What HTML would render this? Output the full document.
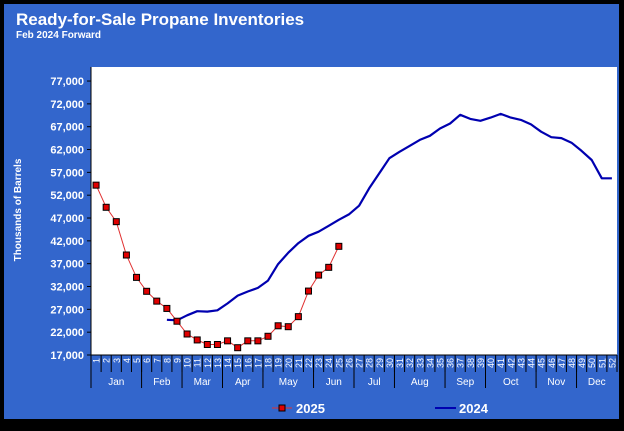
<!DOCTYPE html>
<html><head><meta charset="utf-8"><style>
html,body{margin:0;padding:0;background:#000;}
body{width:624px;height:426px;overflow:hidden;font-family:"Liberation Sans",sans-serif;}
</style></head><body>
<svg width="624" height="426" xmlns="http://www.w3.org/2000/svg" style="font-family:'Liberation Sans',sans-serif">
<rect x="0" y="0" width="624" height="426" fill="#000"/>
<rect x="4" y="4" width="615" height="415" fill="#3366CC"/>
<text x="16" y="25" fill="#fff" font-size="17" font-weight="bold">Ready-for-Sale Propane Inventories</text>
<text x="16" y="38" fill="#fff" font-size="10" font-weight="bold">Feb 2024 Forward</text>
<text transform="translate(21,210) rotate(-90)" fill="#fff" font-size="10" font-weight="bold" text-anchor="middle">Thousands of Barrels</text>
<rect x="91" y="67" width="526" height="288" fill="#fff"/>
<g id="axes"></g>
<g id="marks"></g>
<g>
<line x1="272" y1="408" x2="292" y2="408" stroke="#e03030" stroke-width="1"/>
<rect x="279" y="405" width="6" height="6" fill="#e00000" stroke="#000" stroke-width="1"/>
<text x="296" y="413" fill="#fff" font-size="13" font-weight="bold">2025</text>
<line x1="435" y1="408" x2="456" y2="408" stroke="#0000B0" stroke-width="2"/>
<text x="459" y="413" fill="#fff" font-size="13" font-weight="bold">2024</text>
</g>
</svg>
<script>
const yTicks=[17000,22000,27000,32000,37000,42000,47000,52000,57000,62000,67000,72000,77000];
const weeks=Array.from({length:52},(_,i)=>i+1);
const months=["Jan","Feb","Mar","Apr","May","Jun","Jul","Aug","Sep","Oct","Nov","Dec"];
const monthWeeks=[5,4,4,4,5,4,4,5,4,5,4,4];
const s2025Start=1;
const s2025=[54200,49350,46200,38900,34000,30950,28800,27200,24400,21600,20300,19300,19300,20100,18600,20100,20100,21100,23400,23200,25400,31000,34500,36200,40800];
const s2024Start=8;
const s2024=[24700,24600,25700,26600,26500,26800,28300,30000,30900,31700,33300,36900,39400,41500,43100,44000,45300,46600,47800,49700,53500,56800,60100,61500,62800,64100,65000,66600,67700,69600,68700,68300,69000,69800,69000,68500,67500,65900,64700,64500,63500,61700,59700,55700,55700];

const NS="http://www.w3.org/2000/svg";
const X0=91,X1=617,Y0=355,bw=(X1-X0)/52;
const yv=v=>Y0-(v-17000)/5000*22.83;
const xw=w=>X0+(w-0.5)*bw;
const axes=document.getElementById('axes'),marks=document.getElementById('marks');
function mk(tag,attrs,parent){const e=document.createElementNS(NS,tag);for(const k in attrs)e.setAttribute(k,attrs[k]);parent.appendChild(e);return e;}

yTicks.forEach(v=>{
  const t=mk('text',{x:84,y:yv(v)+4,fill:'#fff','font-size':'11','font-weight':'bold','text-anchor':'end'},axes);
  t.textContent=v.toLocaleString('en-US');
  
  
  const l=mk('line',{x1:87,x2:91,y1:yv(v),y2:yv(v),stroke:'#000'},axes);
  
  
});
const ax=mk('line',{x1:X0,x2:X0,y1:67,y2:Y0,stroke:'#000'},axes);


const bx=mk('line',{x1:X0-4,x2:X1,y1:Y0,y2:Y0,stroke:'#000'},axes);


weeks.forEach(w=>{
  const x=xw(w);
  const t=mk('text',{transform:`translate(${x+3.5},358) rotate(-90)`,fill:'#fff','font-size':'9','text-anchor':'end'},axes);
  t.textContent=w;
  
  
  const l=mk('line',{x1:X0+w*bw,x2:X0+w*bw,y1:Y0,y2:372,stroke:'#000'},axes);
  
  
});
let acc=0;
months.forEach((m,i)=>{
  const s=acc;acc+=monthWeeks[i];
  const l=mk('line',{x1:X0+s*bw,x2:X0+s*bw,y1:Y0,y2:388,stroke:'#000'},axes);
  
  
  const t=mk('text',{x:X0+(s+acc)/2*bw,y:385,fill:'#fff','font-size':'10','text-anchor':'middle'},axes);
  t.textContent=m;
  
  
});
const p24=s2024.map((v,i)=>`${xw(s2024Start+i).toFixed(1)},${yv(v).toFixed(1)}`).join(' ');
const l24=mk('polyline',{points:p24,fill:'none',stroke:'#0000B0','stroke-width':'2.2','stroke-linejoin':'round'},marks);


const p25=s2025.map((v,i)=>`${xw(s2025Start+i).toFixed(1)},${yv(v).toFixed(1)}`).join(' ');
const l25=mk('polyline',{points:p25,fill:'none',stroke:'#e03030','stroke-width':'1'},marks);


s2025.forEach((v,i)=>{
  const r=mk('rect',{x:xw(s2025Start+i)-3,y:yv(v)-3,width:6,height:6,fill:'#e00000',stroke:'#000','stroke-width':'1'},marks);
  
  
});
</script>
</body></html>
